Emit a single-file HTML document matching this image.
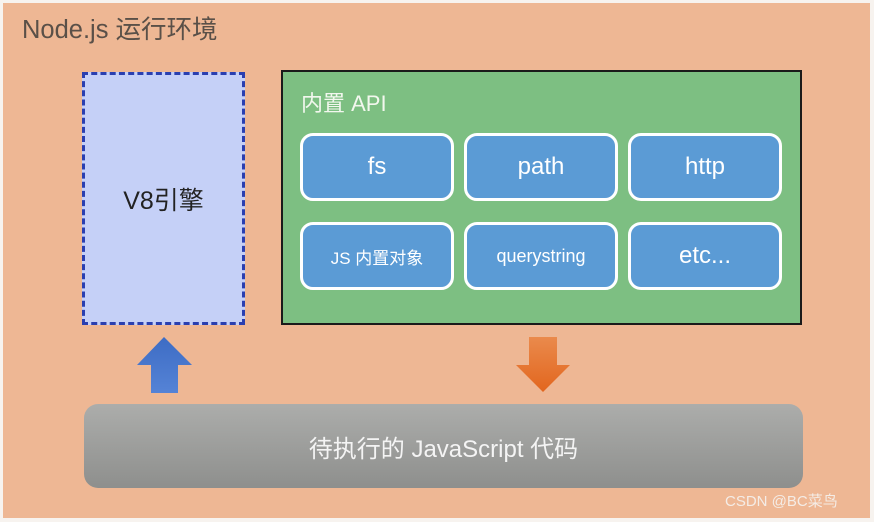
<!DOCTYPE html>
<html><head><meta charset="utf-8"><style>
*{margin:0;padding:0;box-sizing:border-box}
body{width:874px;height:522px;background:#f7f3ef;position:relative;overflow:hidden;font-family:"Liberation Sans","Noto Sans CJK SC",sans-serif}
.bg{position:absolute;left:3px;top:3px;width:867px;height:515px;background:#eeb794}
.t{position:absolute;left:22px;top:9px;font-size:25.5px;color:#5a5048}
.v8{position:absolute;left:82px;top:72px;width:163px;height:253px;background:#c5d0f7;border:3px dashed #2a3fb0;display:flex;align-items:center;justify-content:center;font-size:25px;color:#222}
.api{position:absolute;left:281px;top:70px;width:521px;height:255px;background:#7dbf82;border:2px solid #1a1a1a}
.api .h{position:absolute;left:18px;top:14px;font-size:22px;color:#f2f7ee}
.tile{position:absolute;width:154px;height:68px;background:#5b9bd5;border:3px solid #fff;border-radius:13px;display:flex;align-items:center;justify-content:center;color:#fff;font-size:24px}
.bar{position:absolute;left:84px;top:404px;width:719px;height:84px;border-radius:14px;background:linear-gradient(#acadab,#8e8f8d);display:flex;align-items:center;justify-content:center;color:#f4f4f4;font-size:24px}
.wm{position:absolute;left:725px;top:490px;font-size:15px;color:#f4ece6}
</style></head><body>
<div class="bg"></div>
<div class="t">Node.js 运行环境</div>
<div class="v8">V8引擎</div>
<div class="api"><div class="h">内置 API</div></div>
<div class="tile" style="left:300px;top:133px">fs</div>
<div class="tile" style="left:464px;top:133px">path</div>
<div class="tile" style="left:628px;top:133px">http</div>
<div class="tile" style="left:300px;top:222px;font-size:17px">JS 内置对象</div>
<div class="tile" style="left:464px;top:222px;font-size:18px">querystring</div>
<div class="tile" style="left:628px;top:222px">etc...</div>
<svg style="position:absolute;left:0;top:0" width="874" height="522">
<defs>
<linearGradient id="b" x1="0" y1="0" x2="0" y2="1"><stop offset="0" stop-color="#3d6cc4"/><stop offset="1" stop-color="#5583d6"/></linearGradient>
<linearGradient id="o" x1="0" y1="0" x2="0" y2="1"><stop offset="0" stop-color="#ea8a4c"/><stop offset="1" stop-color="#e2661e"/></linearGradient>
</defs>
<polygon points="164,337 192,365 178,365 178,393 151,393 151,365 137,365" fill="url(#b)"/>
<polygon points="529,337 557,337 557,365 570,365 543,392 516,365 529,365" fill="url(#o)"/>
</svg>
<div class="bar">待执行的 JavaScript 代码</div>
<div class="wm">CSDN @BC菜鸟</div>
</body></html>
